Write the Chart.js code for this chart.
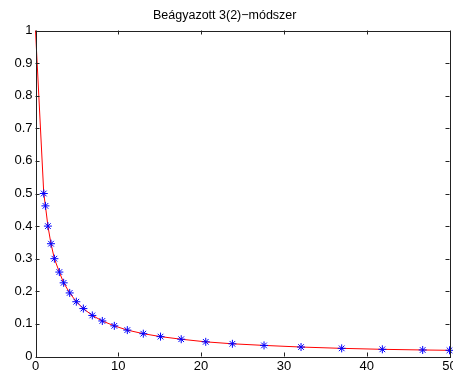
<!DOCTYPE html>
<html>
<head>
<meta charset="utf-8">
<script src="https://cdn.jsdelivr.net/npm/chart.js@4.4.0/dist/chart.umd.min.js"></script>
<style>
  html, body { margin: 0; padding: 0; background: #fff; }
  #wrap { width: 453px; height: 374px; }
</style>
</head>
<body>
<div id="wrap"><canvas id="myChart" width="453" height="374"></canvas></div>
<script>
// values
const tStart = [0];
const yStart = [1];
const tValues = [1.0, 1.2, 1.5, 1.87, 2.28, 2.88, 3.4, 4.13, 4.93, 5.78, 6.86, 8.07, 9.52, 11.09, 13.02,
                 15.1, 17.6, 20.56, 23.78, 27.6, 32.07, 36.98, 41.89, 46.76, 50];
const yValues = [0.5, 0.462, 0.4, 0.346, 0.3, 0.259, 0.226, 0.195, 0.168, 0.147, 0.126, 0.109, 0.094, 0.081, 0.07,
                 0.061, 0.053, 0.045, 0.039, 0.034, 0.029, 0.025, 0.022, 0.020, 0.019];
const xTicks = [0, 10, 20, 30, 40, 50];
const yTicks = [0, 0.1, 0.2, 0.3, 0.4, 0.5, 0.6, 0.7, 0.8, 0.9, 1];
const titleText = 'Beágyazott 3(2)\u2212módszer';

const allT = tStart.concat(tValues);
const allY = yStart.concat(yValues);
const points = allT.map((t, i) => ({ x: t, y: allY[i] }));
const fontFamily = '"Liberation Sans", Arial, Helvetica, sans-serif';

// box around the axes + MATLAB style ticks pointing inwards
const boxPlugin = {
    id: 'box',
    afterDatasetsDraw(chart) {
        const ctx = chart.ctx;
        const a = chart.chartArea;
        const xs = chart.scales.x, ys = chart.scales.y;
        const len = 4;
        ctx.save();
        ctx.strokeStyle = '#222';
        ctx.lineWidth = 1;
        ctx.beginPath();
        xTicks.forEach(v => {
            const px = Math.round(xs.getPixelForValue(v)) + 0.5;
            ctx.moveTo(px, a.bottom); ctx.lineTo(px, a.bottom - len);
            ctx.moveTo(px, a.top); ctx.lineTo(px, a.top + len);
        });
        yTicks.forEach(v => {
            const py = Math.round(ys.getPixelForValue(v)) + 0.5;
            ctx.moveTo(a.left, py); ctx.lineTo(a.left + len, py);
            ctx.moveTo(a.right, py); ctx.lineTo(a.right - len, py);
        });
        ctx.stroke();
        ctx.strokeRect(Math.round(a.left) + 0.5, Math.round(a.top) + 0.5,
                       Math.round(a.right - a.left), Math.round(a.bottom - a.top));
        ctx.restore();
    }
};

var ctx = document.getElementById('myChart').getContext('2d');
var myChart = new Chart(ctx, {
    type: 'line',
    data: {
        datasets: [{
            label: 'y',
            data: points,
            borderColor: '#ff0000',
            borderWidth: 1,
            tension: 0,
            pointStyle: 'star',
            pointRadius: allT.map((t, i) => i === 0 ? 0 : 4),
            pointBorderColor: '#0000ff',
            pointBackgroundColor: '#0000ff',
            pointBorderWidth: 1,
            clip: false
        }]
    },
    options: {
        responsive: false,
        animation: false,
        layout: { padding: { left: 0, right: 3.5, top: 0, bottom: 0 }, autoPadding: false },
        plugins: {
            legend: { display: false },
            tooltip: { enabled: false },
            title: {
                display: true,
                text: titleText,
                color: '#000',
                font: { family: fontFamily, size: 12.5, weight: 'normal' },
                padding: { top: 8.5, bottom: 7 }
            }
        },
        scales: {
            x: {
                type: 'linear',
                min: 0, max: 50,
                grid: { display: false, drawTicks: false },
                border: { display: false },
                afterBuildTicks: s => { s.ticks = xTicks.map(v => ({ value: v })); },
                afterFit: s => { s.height = 17.5; s.paddingLeft = 0; s.paddingRight = 0; },
                ticks: {
                    color: '#000',
                    padding: 2,
                    maxRotation: 0,
                    font: { family: fontFamily, size: 13 }
                }
            },
            y: {
                type: 'linear',
                min: 0, max: 1,
                grid: { display: false, drawTicks: false },
                border: { display: false },
                afterBuildTicks: s => { s.ticks = yTicks.map(v => ({ value: v })); },
                afterFit: s => { s.width = 35.5; },
                ticks: {
                    color: '#000',
                    padding: 3,
                    font: { family: fontFamily, size: 13 },
                    callback: v => String(v)
                }
            }
        }
    },
    plugins: [boxPlugin]
});
</script>
</body>
</html>
